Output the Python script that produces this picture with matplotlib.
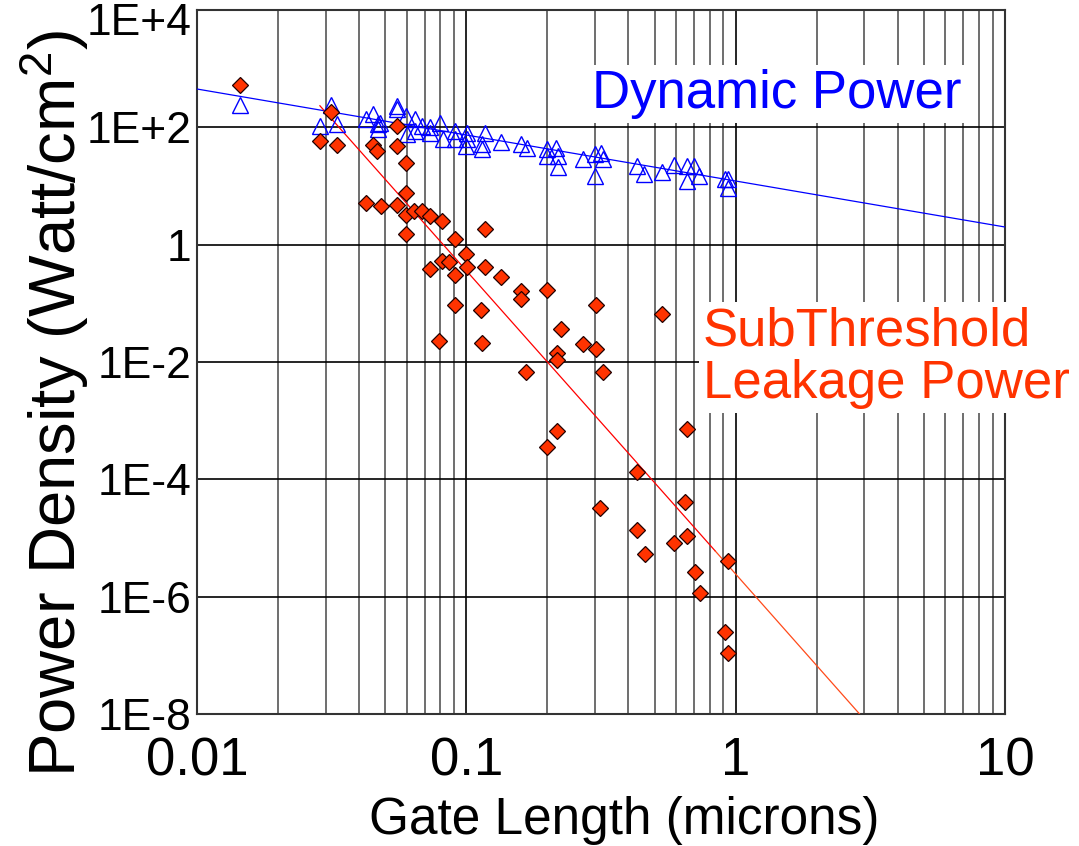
import matplotlib
matplotlib.use("Agg")
import matplotlib.pyplot as plt
from matplotlib.ticker import LogLocator, NullLocator
from matplotlib.transforms import offset_copy

plt.rcParams['font.family'] = ['Liberation Sans', 'DejaVu Sans']
plt.rcParams['mathtext.fontset'] = 'custom'
plt.rcParams['mathtext.rm'] = 'Liberation Sans'
plt.rcParams['mathtext.it'] = 'Liberation Sans:italic'

# Dynamic power (open triangles)
dyn_x = [0.0145, 0.0314, 0.0286, 0.0331, 0.0423, 0.0449, 0.047, 0.048, 0.047,
         0.0553, 0.0553, 0.0599, 0.0601, 0.0645, 0.0645, 0.0687, 0.0733, 0.0733,
         0.0799, 0.0820, 0.0908, 0.0908, 0.1002, 0.117, 0.114, 0.101, 0.100,
         0.114, 0.1345, 0.160, 0.168, 0.199, 0.199, 0.216, 0.219, 0.219, 0.272,
         0.30, 0.316, 0.322, 0.30, 0.429, 0.458, 0.532, 0.592, 0.658, 0.658,
         0.70, 0.73, 0.913, 0.94, 0.94]
dyn_y = [240, 240, 106, 112, 138, 168, 112, 118, 93,
         233, 204, 158, 77, 138, 87, 106, 100, 81,
         120, 63, 87, 63, 63, 81, 51, 81, 48,
         43, 57, 52, 45, 42, 33, 45, 33, 21, 29,
         35, 37, 29, 14.9, 22, 15.9, 17, 22.6, 21.5, 12.2,
         21.5, 14.9, 13, 13, 9.4]

# Subthreshold leakage power (filled diamonds)
leak_x = [0.0145, 0.0314, 0.0286, 0.0331, 0.0450, 0.0467, 0.0553, 0.0553,
          0.0599, 0.0599, 0.0423, 0.0482, 0.0553, 0.0599, 0.0641, 0.0687,
          0.0733, 0.0815, 0.0599, 0.0908, 0.117, 0.0998, 0.0815, 0.0865,
          0.0733, 0.101, 0.117, 0.0908, 0.0908, 0.113, 0.0794, 0.114,
          0.1345, 0.160, 0.160, 0.199, 0.302, 0.532, 0.225, 0.270, 0.302,
          0.218, 0.218, 0.1667, 0.323, 0.218, 0.200, 0.658, 0.429, 0.314,
          0.649, 0.429, 0.461, 0.592, 0.658, 0.707, 0.738, 0.94, 0.913, 0.94]
leak_y = [525, 184, 59, 50, 50, 39, 106, 48,
          24.5, 7.7, 5.2, 4.5, 4.8, 3.2, 3.7, 3.76,
          3.1, 2.5, 1.55, 1.24, 1.88, 0.68, 0.52, 0.51,
          0.39, 0.41, 0.41, 0.30, 0.093, 0.076, 0.023, 0.021,
          0.28, 0.162, 0.117, 0.17, 0.093, 0.065, 0.036, 0.020, 0.0164,
          0.0144, 0.011, 0.0068, 0.0068, 6.6e-4, 3.6e-4, 7.2e-4, 1.35e-4, 3.3e-5,
          4.1e-5, 1.37e-5, 5.4e-6, 8.2e-6, 1.1e-5, 2.6e-6, 1.16e-6, 4.0e-6, 2.5e-7, 1.1e-7]

# trend lines (end points)
dyn_fit_x = [0.01, 10]
dyn_fit_y = [450, 2.0]
leak_fit_x = [0.0286, 0.84, 2.95]
leak_fit_y = [233, 6.0e-6, 8.9e-9]

x_ticks = [0.01, 0.1, 1, 10]
x_tick_labels = ['0.01', '0.1', '1', '10']
y_ticks = [1e-8, 1e-6, 1e-4, 1e-2, 1, 1e2, 1e4]
y_tick_labels = ['1E-8', '1E-6', '1E-4', '1E-2', '1', '1E+2', '1E+4']

fig = plt.figure(figsize=(10.79, 8.46), dpi=100)
ax = fig.add_axes([197/1079, 1-714/846, 808/1079, 704/846])
ax.set_xscale('log')
ax.set_yscale('log')

ax.plot(dyn_fit_x, dyn_fit_y, color='#0000ff', lw=0.9, zorder=3)
ax.plot(leak_fit_x[:2], leak_fit_y[:2], color='#ff0000', lw=0.9, zorder=3)
ax.plot(leak_fit_x[1:], leak_fit_y[1:], color='#ff4a1a', lw=0.9, zorder=3)

ax.plot(dyn_x, dyn_y, ls='none', marker='^', ms=11.5, mfc='none',
        mec='#0000ff', mew=1.0, zorder=4)
ax.plot(leak_x, leak_y, ls='none', marker='D', ms=7.8, mfc='#ff3300',
        mec='#220000', mew=0.9, zorder=5)

ax.set_xlim(0.01, 10)
ax.set_ylim(1e-8, 1e4)

ax.set_xticks(x_ticks)
ax.set_xticklabels(x_tick_labels)
ax.xaxis.set_minor_locator(LogLocator(base=10, subs=range(2, 10), numticks=20))
ax.set_yticks(y_ticks)
# top label is drawn separately, shifted down to fit
ax.set_yticklabels(y_tick_labels[:-1] + [''])
ax.yaxis.set_minor_locator(NullLocator())
ax.tick_params(which='both', length=0)
ax.tick_params(axis='x', labelsize=38, pad=16)
ax.tick_params(axis='y', labelsize=32, pad=4)

ax.grid(which='major', axis='both', color='black', lw=1.2, zorder=0)
ax.grid(which='minor', axis='x', color='#555555', lw=1.2, zorder=0)
ax.set_axisbelow(True)
for sp in ax.spines.values():
    sp.set_color('#333333')
    sp.set_linewidth(1.5)

ax.text(0, 1e4, y_tick_labels[-1], fontsize=32, ha='right', va='center',
        transform=offset_copy(ax.get_yaxis_transform(), fig=fig, x=-5, y=-13, units='dots'))

# series labels with white boxes over the grid
box = dict(facecolor='white', edgecolor='none', boxstyle='square,pad=0.08')
fig.text(592/1079, 1-108/846, 'Dynamic Power', fontsize=38, color='#0000ff',
         va='baseline', ha='left', bbox=box, zorder=6)
fig.text(703/1079, 1-345/846, 'SubThreshold', fontsize=38, color='#ff3300',
         va='baseline', ha='left', bbox=box, zorder=6)
fig.text(703/1079, 1-398/846, 'Leakage Power', fontsize=38, color='#ff3300',
         va='baseline', ha='left', bbox=box, zorder=6)

fig.text(55/1079, 1-403/846, 'Power Density (Watt/cm$^2$)', fontsize=47,
         rotation=90, ha='center', va='center')
fig.text(624/1079, 1-834/846, 'Gate Length (microns)', fontsize=37,
         ha='center', va='baseline')

fig.savefig('out.png', dpi=100)
